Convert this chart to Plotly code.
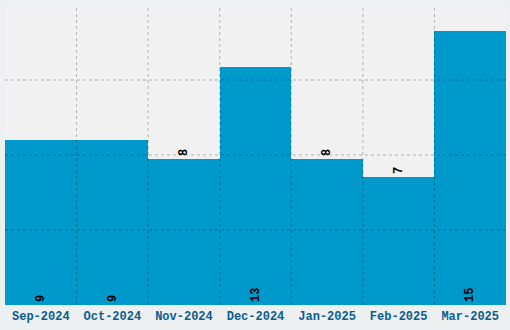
import plotly.graph_objects as go

categories = ["Sep-2024", "Oct-2024", "Nov-2024", "Dec-2024", "Jan-2025", "Feb-2025", "Mar-2025"]
values = [9, 9, 8, 13, 8, 7, 15]
text_positions = ["inside", "inside", "outside", "inside", "outside", "outside", "inside"]

y_max = 16.4
y_grid = [y_max / 4 * k for k in range(1, 4)]

FONT = "Liberation Mono"
grid_color = "rgba(0,0,0,0.25)"

fig = go.Figure(go.Bar(
    x=categories, y=values,
    text=[str(v) for v in values],
    textposition=text_positions,
    insidetextanchor="start",
    textangle=-90,
    textfont=dict(family=FONT, size=12, color="#000000", weight="bold"),
    constraintext="none",
    cliponaxis=False,
    marker=dict(color="#0099cc", line=dict(width=0)),
    width=1.0,
))

shapes = []
for yv in y_grid:
    shapes.append(dict(type="line", xref="x domain", yref="y", x0=0, x1=1, y0=yv, y1=yv,
                       line=dict(color=grid_color, width=1, dash="dot"), layer="above"))
for i in range(len(categories) - 1):
    shapes.append(dict(type="line", xref="x", yref="y domain", x0=i + 0.5, x1=i + 0.5, y0=0, y1=1,
                       line=dict(color=grid_color, width=1, dash="dot"), layer="above"))

fig.update_layout(
    width=510, height=330,
    margin=dict(l=5, r=4, t=5, b=25),
    paper_bgcolor="#edf0f0",
    plot_bgcolor="#f1f1f1",
    bargap=0,
    showlegend=False,
    shapes=shapes,
    font=dict(family=FONT),
    xaxis=dict(
        showgrid=False, showline=False, zeroline=False, ticks="",
        tickfont=dict(family=FONT, size=12, color="#0b5e91", weight="bold"),
        ticklabelstandoff=2,
        range=[-0.5, len(categories) - 0.5],
    ),
    yaxis=dict(
        range=[0, y_max], showgrid=False, zeroline=False, showticklabels=False, ticks="",
    ),
)

fig.write_html("out.html")
